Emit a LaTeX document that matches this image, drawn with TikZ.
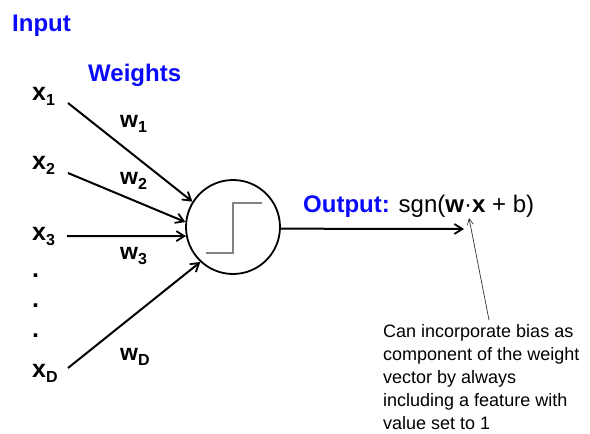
\documentclass[tikz,border=0pt]{standalone}
\usepackage{fontspec}
\setmainfont{Liberation Sans}
\usetikzlibrary{arrows.meta}
\definecolor{headblue}{RGB}{10,10,250}
\definecolor{stepgray}{RGB}{130,130,130}
\newcommand{\sub}[1]{\raisebox{-5pt}{\fontsize{16}{16}\selectfont #1}}
\begin{document}
\begin{tikzpicture}[x=1pt,y=-1pt,
  lbl/.style={anchor=base west,inner sep=0pt,font=\fontsize{24}{24}\selectfont},
  var/.style={lbl,font=\fontsize{25}{25}\selectfont\bfseries},
  wt/.style={lbl,font=\fontsize{23}{23}\selectfont\bfseries},
  title/.style={lbl,font=\fontsize{24}{24}\selectfont\bfseries,text=headblue},
  link/.style={line width=2pt,-{Straight Barb[length=8pt,width=10pt,line width=1.8pt]}},
  note/.style={line width=0.7pt,draw=black!80,-{Straight Barb[length=6pt,width=6pt]}}]
  \useasboundingbox (0,0) rectangle (590,434);

  % headings
  \node[title] (input) at (12,31) {Input};
  \node[title] (weights) at (88,81) {Weights};

  % inputs
  \node[var] (x1) at (32,100) {x\sub{1}};
  \node[var] (x2) at (32,169) {x\sub{2}};
  \node[var] (x3) at (32,240) {x\sub{3}};
  \node[var] (d1) at (32,277) {.};
  \node[var] (d2) at (32,307) {.};
  \node[var] (d3) at (32,337) {.};
  \node[var] (xD) at (32,377) {x\sub{D}};

  % weights
  \node[wt] (w1) at (120,127) {w\sub{1}};
  \node[wt] (w2) at (120,184) {w\sub{2}};
  \node[wt] (w3) at (120,259) {w\sub{3}};
  \node[wt] (wD) at (120,360) {w\sub{D}};

  % neuron with step activation
  \node[circle,draw,line width=1.8pt,minimum size=94pt,inner sep=0pt] (neuron) at (233,227) {};
  \draw[stepgray,line width=1.2pt] (206,253) -- (233,253) -- (233,203) -- (262,203);

  % input connectors
  \coordinate (t1) at (68,103);
  \coordinate (t2) at (68,173);
  \coordinate (t3) at (67,236);
  \coordinate (tD) at (68,368);
  \draw[link] (t1) -- (neuron.148);
  \draw[link] (t2) -- (neuron.174);
  \draw[link] (t3) -- (neuron.191);
  \draw[link] (tD) -- (neuron.227);

  % output
  \node[lbl] (out) at (303,212) {\textcolor{headblue}{\bfseries Output:} sgn(\textbf{w}·\textbf{x} + b)};
  \coordinate (outend) at (464,229);
  \draw[link] (neuron.-2) -- (outend);

  % bias remark
  \node[anchor=north west,inner sep=0pt,align=left,
        font=\fontsize{18}{23}\selectfont] (remark) at (383,324)
    {Can incorporate bias as\\component of the weight\\vector by always\\including a feature with\\value set to 1};
  \coordinate (dot) at (469,218);
  \draw[note] (489,320) -- (dot);
\end{tikzpicture}
\end{document}
